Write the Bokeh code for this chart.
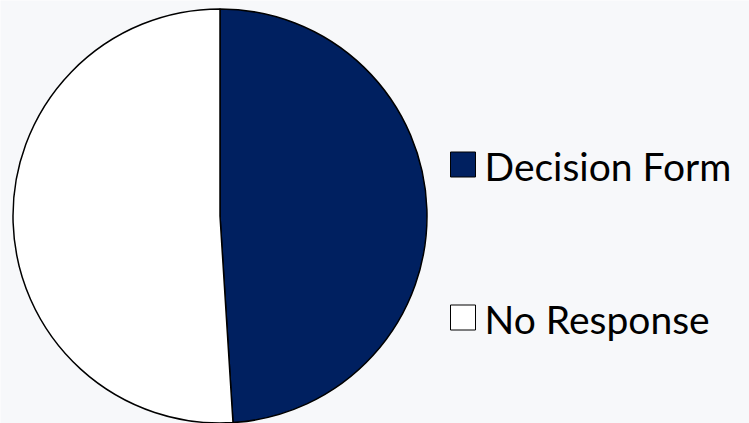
import math
from bokeh.plotting import figure
from bokeh.models import ColumnDataSource, Range1d
from bokeh.core.properties import value
from bokeh.embed import file_html
from bokeh.resources import INLINE

# ---- data ----
categories = ["Decision Form", "No Response"]
shares = [49, 51]
colors = ["#002060", "#FFFFFF"]

W, H = 749, 423
BG = "#F7F8FA"

p = figure(width=W, height=H, output_backend="svg", toolbar_location=None,
           x_range=Range1d(0, W), y_range=Range1d(0, H), min_border=0,
           background_fill_color=BG, border_fill_color=BG, outline_line_color=None)
p.axis.visible = False
p.grid.visible = False

total = float(sum(shares))
starts, ends = [], []
acc = 0.0
for v in shares:
    starts.append(math.pi / 2 - 2 * math.pi * acc / total)
    acc += v
    ends.append(math.pi / 2 - 2 * math.pi * acc / total)

cx, cy, r = 219.5, H - 215.5, 207
src = ColumnDataSource(dict(cat=categories, val=shares, color=colors,
                            start=starts, end=ends))
p.wedge(x=cx, y=cy, radius=r, start_angle="start", end_angle="end",
        direction="clock", fill_color="color", line_color="black",
        line_width=1.5, source=src)

# legend
step = 153
sq_y = [H - 164 - i * step for i in range(len(categories))]
txt_y = [H - 165 - i * step for i in range(len(categories))]
lsrc = ColumnDataSource(dict(label=categories, color=colors,
                             sx=[462.5] * len(categories), sy=sq_y,
                             tx=[484] * len(categories), ty=txt_y))
p.rect(x="sx", y="sy", width=25, height=25, fill_color="color",
       line_color="black", line_width=1, source=lsrc)
p.text(x="tx", y="ty", text="label", text_font=value("Lato"),
       text_font_size="39px", text_color="#000000", text_baseline="alphabetic",
       text_align="left", source=lsrc)

open("out.html", "w").write(file_html(p, INLINE))
